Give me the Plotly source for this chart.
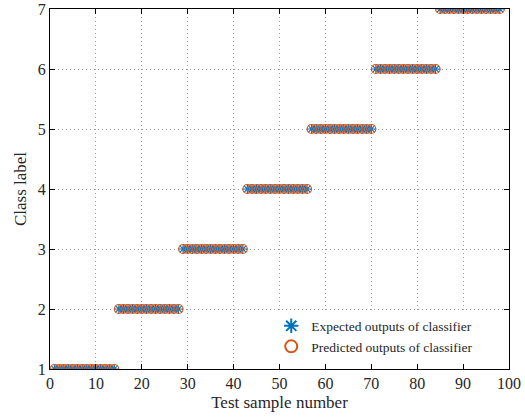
import plotly.graph_objects as go

# Test samples 1..98, fourteen per class
sample_numbers = list(range(1, 99))
expected_labels = [1] * 14 + [2] * 14 + [3] * 14 + [4] * 14 + [5] * 14 + [6] * 14 + [7] * 14
predicted_labels = [1] * 14 + [2] * 14 + [3] * 14 + [4] * 14 + [5] * 14 + [6] * 14 + [7] * 14

x_ticks = [0, 10, 20, 30, 40, 50, 60, 70, 80, 90, 100]
y_ticks = [1, 2, 3, 4, 5, 6, 7]

font_family = "Liberation Serif, Times New Roman, serif"

fig = go.Figure()
fig.add_trace(go.Scatter(
    x=sample_numbers, y=expected_labels, mode="markers",
    name="Expected outputs of classifier",
    marker=dict(symbol="asterisk-open", size=8, color="#0072BD",
                line=dict(color="#0072BD", width=1.2)),
))
fig.add_trace(go.Scatter(
    x=sample_numbers, y=predicted_labels, mode="markers",
    name="Predicted outputs of classifier",
    marker=dict(symbol="circle-open", size=9, color="#D95319",
                line=dict(color="#D95319", width=1.2)),
))

axis_common = dict(
    showline=True, linecolor="black", linewidth=1, mirror="allticks",
    ticks="inside", ticklen=5, tickcolor="black",
    showgrid=True, gridcolor="#a0a0a0", griddash="1px,3px", gridwidth=1,
    zeroline=False, automargin=False,
    tickfont=dict(family=font_family, size=16, color="#262626"),
)

fig.update_xaxes(
    range=[0, 100], tickvals=x_ticks,
    title=dict(text="Test sample number", font=dict(family=font_family, size=17, color="#262626"), standoff=4),
    **axis_common,
)
fig.update_yaxes(
    range=[1, 7], tickvals=y_ticks,
    title=dict(text="Class label", font=dict(family=font_family, size=17, color="#262626"), standoff=6),
    **axis_common,
)

fig.update_layout(
    width=525, height=418,
    margin=dict(l=50, r=16, t=9, b=49),
    paper_bgcolor="white", plot_bgcolor="white",
    font=dict(family=font_family, color="#262626"),
    showlegend=True,
    legend=dict(
        x=0.933, y=0.018, xanchor="right", yanchor="bottom",
        bgcolor="white", borderwidth=0,
        font=dict(family=font_family, size=13.5, color="#262626"),
        itemsizing="constant", tracegroupgap=0,
    ),
)

fig.write_html("out.html")
